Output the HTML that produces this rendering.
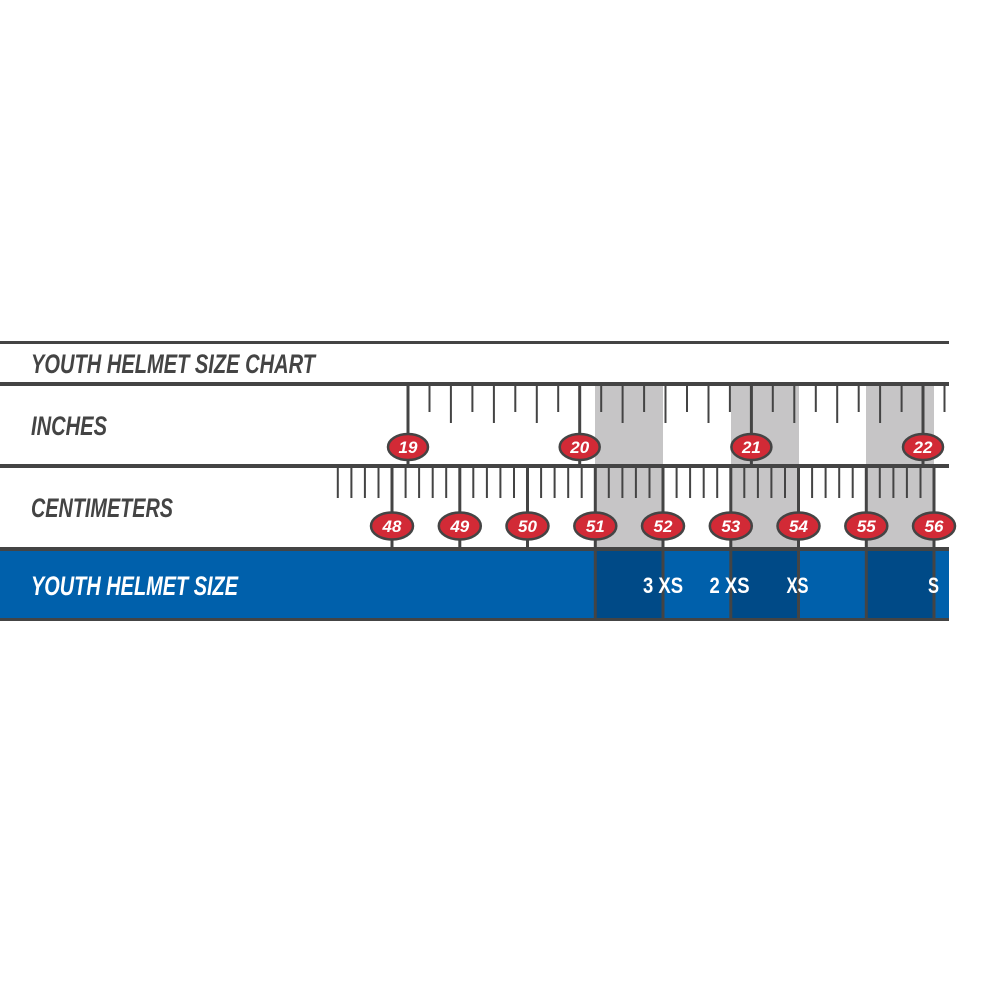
<!DOCTYPE html>
<html><head><meta charset="utf-8"><style>
html,body{margin:0;padding:0;background:#fff;}
svg{display:block;}
.lbl{font-family:"Liberation Sans",sans-serif;font-weight:bold;font-style:italic;font-size:27px;}
.num{font-family:"Liberation Sans",sans-serif;font-weight:bold;font-style:italic;font-size:17px;fill:#fff;text-anchor:middle;}
.sz{font-family:"Liberation Sans",sans-serif;font-weight:bold;font-size:22px;fill:#fff;text-anchor:middle;}
</style></head><body>
<svg width="989" height="989" viewBox="0 0 989 989" xmlns="http://www.w3.org/2000/svg">
<rect width="989" height="989" fill="#fff"/>
<!-- gray bands -->
<g fill="#c6c5c6">
<rect x="595" y="385" width="68" height="165"/>
<rect x="731" y="385" width="68" height="165"/>
<rect x="866" y="385" width="68" height="165"/>
</g>
<!-- blue row -->
<rect x="0" y="550" width="949" height="69" fill="#0060ab"/>
<g fill="#004a87">
<rect x="595" y="550" width="68" height="69"/>
<rect x="731" y="550" width="67" height="69"/>
<rect x="866" y="550" width="68" height="69"/>
</g>
<!-- inch ticks -->
<g stroke="#444" stroke-width="2" fill="none">
<path d="M429.5 384V412 M472.4 384V412 M515.3 384V412 M558.2 384V412 M601.2 384V412 M644.1 384V412 M687 384V412 M729.9 384V412 M772.8 384V412 M815.8 384V412 M858.7 384V412 M901.6 384V412 M944.5 384V412"/>
<path d="M450.9 384V423 M493.9 384V423 M536.8 384V423 M622.6 384V423 M665.5 384V423 M708.5 384V423 M794.3 384V423 M837.2 384V423 M880.1 384V423"/>
<path d="M337.8 466V498 M351.4 466V498 M364.9 466V498 M378.5 466V498 M405.6 466V498 M419.1 466V498 M432.7 466V498 M446.2 466V498 M473.3 466V498 M486.9 466V498 M500.4 466V498 M514 466V498 M541.1 466V498 M554.6 466V498 M568.2 466V498 M581.7 466V498 M608.8 466V498 M622.4 466V498 M635.9 466V498 M649.5 466V498 M676.6 466V498 M690.1 466V498 M703.7 466V498 M717.2 466V498 M744.3 466V498 M757.9 466V498 M771.4 466V498 M785 466V498 M812.1 466V498 M825.6 466V498 M839.2 466V498 M852.7 466V498 M879.8 466V498 M893.4 466V498 M906.9 466V498 M920.5 466V498"/>
</g>
<g stroke="#444" stroke-width="3" fill="none">
<path d="M408 384V466 M579.7 384V466 M751.4 384V466 M923 384V466"/>
<path d="M392 466V549 M459.8 466V549 M527.5 466V549 M595.3 466V620 M663 466V620 M730.8 466V620 M798.5 466V620 M866.3 466V620 M934 466V620"/>
</g>
<!-- horizontal lines -->
<g fill="#444">
<rect x="0" y="341" width="949" height="3"/>
<rect x="0" y="382" width="949" height="4"/>
<rect x="0" y="464" width="949" height="4"/>
<rect x="0" y="547" width="949" height="4"/>
<rect x="0" y="618" width="949" height="3"/>
</g>
<!-- inch ellipses -->
<g fill="#d22a36" stroke="#444" stroke-width="2.5">
<ellipse cx="408" cy="447" rx="20" ry="13"/>
<ellipse cx="579.7" cy="447" rx="20" ry="13"/>
<ellipse cx="751.4" cy="447" rx="20" ry="13"/>
<ellipse cx="923" cy="447" rx="20" ry="13"/>
<ellipse cx="392" cy="526" rx="21" ry="13.5"/>
<ellipse cx="459.8" cy="526" rx="21" ry="13.5"/>
<ellipse cx="527.5" cy="526" rx="21" ry="13.5"/>
<ellipse cx="595.3" cy="526" rx="21" ry="13.5"/>
<ellipse cx="663" cy="526" rx="21" ry="13.5"/>
<ellipse cx="730.8" cy="526" rx="21" ry="13.5"/>
<ellipse cx="798.5" cy="526" rx="21" ry="13.5"/>
<ellipse cx="866.3" cy="526" rx="21" ry="13.5"/>
<ellipse cx="934" cy="526" rx="21" ry="13.5"/>
</g>
<g class="num">
<text x="408" y="453" class="num">19</text>
<text x="579.7" y="453" class="num">20</text>
<text x="751.4" y="453" class="num">21</text>
<text x="923" y="453" class="num">22</text>
<text x="392" y="532" class="num">48</text>
<text x="459.8" y="532" class="num">49</text>
<text x="527.5" y="532" class="num">50</text>
<text x="595.3" y="532" class="num">51</text>
<text x="663" y="532" class="num">52</text>
<text x="730.8" y="532" class="num">53</text>
<text x="798.5" y="532" class="num">54</text>
<text x="866.3" y="532" class="num">55</text>
<text x="934" y="532" class="num">56</text>
</g>
<!-- labels -->
<text class="lbl" x="31" y="373" fill="#444" textLength="284" lengthAdjust="spacingAndGlyphs">YOUTH HELMET SIZE CHART</text>
<text class="lbl" x="31" y="435" fill="#444" textLength="76" lengthAdjust="spacingAndGlyphs">INCHES</text>
<text class="lbl" x="31" y="517" fill="#444" textLength="142" lengthAdjust="spacingAndGlyphs">CENTIMETERS</text>
<text class="lbl" x="31" y="595" fill="#fff" textLength="207" lengthAdjust="spacingAndGlyphs">YOUTH HELMET SIZE</text>
<text class="sz" x="663" y="593" textLength="40" lengthAdjust="spacingAndGlyphs">3 XS</text>
<text class="sz" x="729.5" y="593" textLength="40" lengthAdjust="spacingAndGlyphs">2 XS</text>
<text class="sz" x="797.5" y="593" textLength="22" lengthAdjust="spacingAndGlyphs">XS</text>
<text class="sz" x="933.5" y="593" textLength="11" lengthAdjust="spacingAndGlyphs">S</text>
</svg>
</body></html>
